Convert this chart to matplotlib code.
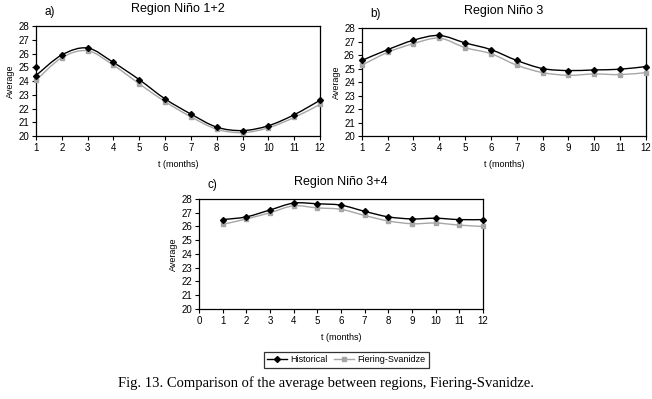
import numpy as np
import matplotlib.pyplot as plt
from matplotlib.path import Path
from matplotlib.patches import PathPatch
from matplotlib.lines import Line2D

months = [1, 2, 3, 4, 5, 6, 7, 8, 9, 10, 11, 12]

# Region Nino 1+2
a_hist = [24.4, 25.9, 26.4, 25.35, 24.1, 22.7, 21.6, 20.65, 20.4, 20.75, 21.55, 22.6]
a_fs = [24.05, 25.7, 26.2, 25.15, 23.8, 22.5, 21.4, 20.5, 20.25, 20.6, 21.35, 22.3]
a_extra_x = [1]
a_extra_y = [25.0]

# Region Nino 3
b_hist = [25.6, 26.4, 27.1, 27.45, 26.9, 26.4, 25.6, 25.0, 24.85, 24.9, 24.95, 25.15]
b_fs = [25.25, 26.2, 26.85, 27.25, 26.55, 26.1, 25.25, 24.7, 24.5, 24.6, 24.55, 24.7]

# Region Nino 3+4
c_hist = [26.5, 26.7, 27.2, 27.7, 27.65, 27.55, 27.1, 26.7, 26.55, 26.6, 26.5, 26.5]
c_fs = [26.15, 26.55, 27.0, 27.5, 27.35, 27.25, 26.8, 26.4, 26.2, 26.25, 26.1, 26.0]

yticks = [20, 21, 22, 23, 24, 25, 26, 27, 28]

GRAY = '#a6a6a6'


def smooth_line(ax, x, y, color, lw):
    # excel-like smoothed line: cubic bezier between the points
    x = np.asarray(x, float)
    y = np.asarray(y, float)
    n = len(x)
    verts = [(x[0], y[0])]
    codes = [Path.MOVETO]
    for i in range(n - 1):
        x0, y0 = (x[i - 1], y[i - 1]) if i > 0 else (x[i], y[i])
        x3, y3 = (x[i + 2], y[i + 2]) if i + 2 < n else (x[i + 1], y[i + 1])
        c1 = (x[i] + (x[i + 1] - x0) / 6, y[i] + (y[i + 1] - y0) / 6)
        c2 = (x[i + 1] - (x3 - x[i]) / 6, y[i + 1] - (y3 - y[i]) / 6)
        verts += [c1, c2, (x[i + 1], y[i + 1])]
        codes += [Path.CURVE4] * 3
    ax.add_patch(PathPatch(Path(verts, codes), fill=False, edgecolor=color, lw=lw, zorder=2))


def panel(ax, hist, fs, title, letter, xmin, smooth=True):
    if smooth:
        smooth_line(ax, months, fs, GRAY, 1.0)
        smooth_line(ax, months, hist, 'black', 1.0)
    else:
        ax.plot(months, fs, color=GRAY, lw=1.0)
        ax.plot(months, hist, color='black', lw=1.0)
    ax.plot(months, fs, ls='none', marker='s', ms=3.5, color=GRAY, zorder=3, clip_on=False)
    ax.plot(months, hist, ls='none', marker='D', ms=3, color='black', zorder=4, clip_on=False)
    ax.set_xlim(xmin, 12)
    ax.set_ylim(20, 28)
    ax.set_xticks(range(xmin, 13))
    ax.set_yticks(yticks)
    ax.tick_params(labelsize=7, length=3, width=0.8, pad=2)
    for s in ax.spines.values():
        s.set_linewidth(0.9)
    ax.set_xlabel('t (months)', fontsize=6.5, labelpad=5)
    ax.set_ylabel('Average', fontsize=6.5, labelpad=2)
    ax.set_title(title, fontsize=9, pad=10)
    ax.text(0.03, 1.07, letter, transform=ax.transAxes, fontsize=8.5, va='bottom')


plt.rcParams['font.family'] = ['Liberation Sans', 'DejaVu Sans']
fig = plt.figure(figsize=(6.52, 3.99), dpi=100)

ax1 = fig.add_axes([0.0552, 0.659, 0.4356, 0.2757])
ax2 = fig.add_axes([0.555, 0.659, 0.4356, 0.2707])
ax3 = fig.add_axes([0.3052, 0.2256, 0.4356, 0.2757])

panel(ax1, a_hist, a_fs, 'Region Niño 1+2', 'a)', 1)
ax1.plot(a_extra_x, a_extra_y, ls='none', marker='D', ms=3, color='black', zorder=4, clip_on=False)
panel(ax2, b_hist, b_fs, 'Region Niño 3', 'b)', 1)
panel(ax3, c_hist, c_fs, 'Region Niño 3+4', 'c)', 0)

handles = [Line2D([], [], color='black', marker='D', ms=3, lw=1),
           Line2D([], [], color=GRAY, marker='s', ms=3.5, lw=1)]
leg = fig.legend(handles, ['Historical', 'Fiering-Svanidze'], loc='center',
                 bbox_to_anchor=(0.531, 0.098), ncol=2, fontsize=6.5, frameon=True,
                 fancybox=False, handlelength=2.2, handletextpad=0.3, columnspacing=0.8,
                 borderpad=0.4)
leg.get_frame().set_edgecolor('black')
leg.get_frame().set_linewidth(0.9)

fig.text(0.5, 0.04, 'Fig. 13. Comparison of the average between regions, Fiering-Svanidze.',
         ha='center', va='center', fontsize=10.5, family='Liberation Serif')

fig.savefig('out.png', dpi=100)
